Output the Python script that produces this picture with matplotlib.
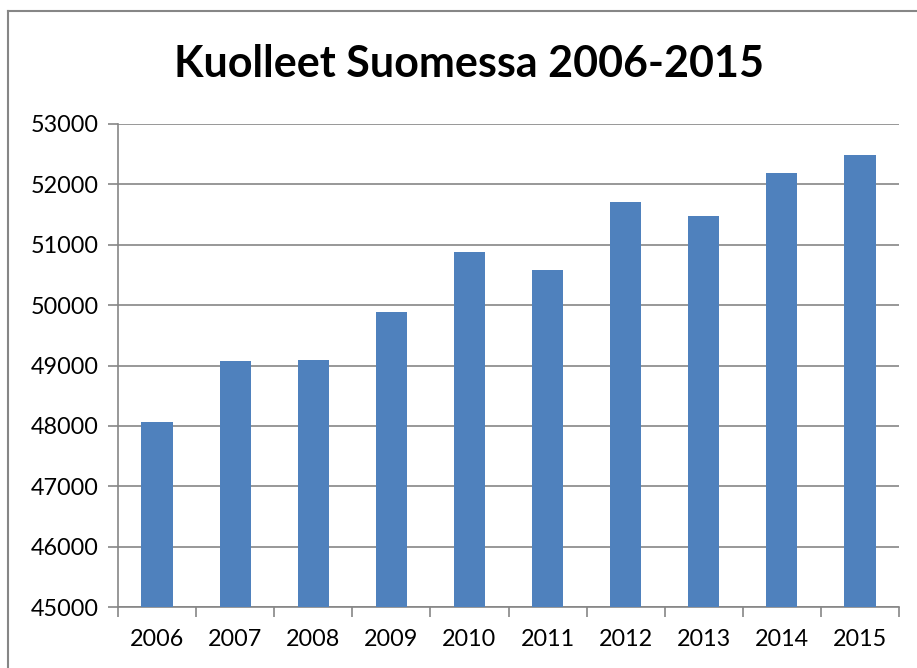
import matplotlib
matplotlib.use("Agg")
import matplotlib.pyplot as plt
from matplotlib.lines import Line2D

years = ["2006", "2007", "2008", "2009", "2010", "2011", "2012", "2013", "2014", "2015"]
deaths = [48065, 49077, 49094, 49883, 50887, 50585, 51707, 51472, 52186, 52492]
yticks = [45000, 46000, 47000, 48000, 49000, 50000, 51000, 52000, 53000]

W, H = 917, 668
fig = plt.figure(figsize=(W / 100, H / 100), dpi=100)
plt.rcParams['font.family'] = ['Lato', 'DejaVu Sans']

ax = fig.add_axes([118 / W, 1 - 607 / H, (899 - 118) / W, (607 - 124) / H])
x = list(range(len(years)))
ax.bar(x, deaths, width=0.4, color="#4F81BD", zorder=3)
ax.set_xlim(-0.5, len(years) - 0.5)
ax.set_ylim(45000, 53000)
ax.set_yticks(yticks)
ax.set_yticklabels([str(v) for v in yticks], fontsize=16.8)
ax.yaxis.grid(True, color="#868686", linewidth=1.2, zorder=0)
ax.set_xticks(x)
ax.set_xticklabels(years, fontsize=16.8)
ax.tick_params(axis="x", length=0, pad=16)
ax.set_xticks([i - 0.5 for i in range(len(years) + 1)], minor=True)
ax.tick_params(axis="x", which="minor", length=7, color="#868686", width=1.2)
ax.tick_params(axis="y", length=7, color="#868686", width=1.2, pad=7)
for s in ["top", "right"]:
    ax.spines[s].set_visible(False)
for s in ["left", "bottom"]:
    ax.spines[s].set_color("#868686")
    ax.spines[s].set_linewidth(1.2)

fig.text(469 / W, 1 - 64 / H, "Kuolleet Suomessa 2006-2015", ha="center", va="center",
         fontsize=31, fontweight="bold")

# chart frame (partially cropped)
fig.add_artist(Line2D([8 / W, 8 / W], [0, 1 - 11 / H], transform=fig.transFigure, color="#868686", lw=1.5))
fig.add_artist(Line2D([8 / W, 1], [1 - 11 / H, 1 - 11 / H], transform=fig.transFigure, color="#868686", lw=1.5))

fig.savefig("out.png", dpi=100)
